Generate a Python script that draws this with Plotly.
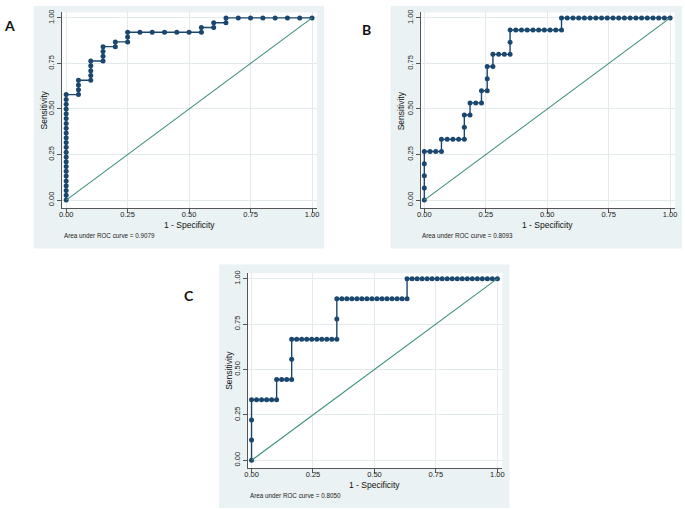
import plotly.graph_objects as go

# ---------------- data ----------------
tick_vals = [0, 0.25, 0.5, 0.75, 1.0]
tick_text = ["0.00", "0.25", "0.50", "0.75", "1.00"]
ref_line = [0, 1]

# Panel A: 20 negatives, 38 positives
a_n_neg = 20
a_n_pos = 38
a_fp = [0, 0, 0, 0, 0, 0, 0, 0, 0, 0, 0, 0, 0, 0, 0, 0, 0, 0, 0, 0, 0, 0, 0,
        1, 1, 1, 1, 2, 2, 2, 2, 2, 3, 3, 3, 3, 4, 4, 5, 5, 5,
        6, 7, 8, 9, 10, 11, 11, 12, 12, 13, 13, 14, 15, 16, 17, 18, 19, 20]
a_tp = [0, 1, 2, 3, 4, 5, 6, 7, 8, 9, 10, 11, 12, 13, 14, 15, 16, 17, 18, 19, 20, 21, 22,
        22, 23, 24, 25, 25, 26, 27, 28, 29, 29, 30, 31, 32, 32, 33, 33, 34, 35,
        35, 35, 35, 35, 35, 35, 36, 36, 37, 37, 38, 38, 38, 38, 38, 38, 38, 38]
a_auc = "0.9079"

# Panel B: 43 negatives, 15 positives
b_n_neg = 43
b_n_pos = 15
b_fp = [0, 0, 0, 0, 0, 1, 2, 3, 3, 4, 5, 6, 7, 7, 7, 8, 8, 9, 10, 10, 11, 11, 11, 12,
        12, 13, 14, 15, 15, 15, 16, 17, 18, 19, 20, 21, 22, 23, 24, 24,
        25, 26, 27, 28, 29, 30, 31, 32, 33, 34, 35, 36, 37, 38, 39, 40, 41, 42, 43]
b_tp = [0, 1, 2, 3, 4, 4, 4, 4, 5, 5, 5, 5, 5, 6, 7, 7, 8, 8, 8, 9, 9, 10, 11, 11,
        12, 12, 12, 12, 13, 14, 14, 14, 14, 14, 14, 14, 14, 14, 14, 15,
        15, 15, 15, 15, 15, 15, 15, 15, 15, 15, 15, 15, 15, 15, 15, 15, 15, 15, 15]
b_auc = "0.8093"

# Panel C: 49 negatives, 9 positives
c_n_neg = 49
c_n_pos = 9
c_fp = [0, 0, 0, 0, 1, 2, 3, 4, 5, 5, 6, 7, 8, 8, 8,
        9, 10, 11, 12, 13, 14, 15, 16, 17, 17, 17,
        18, 19, 20, 21, 22, 23, 24, 25, 26, 27, 28, 29, 30, 31, 31,
        32, 33, 34, 35, 36, 37, 38, 39, 40, 41, 42, 43, 44, 45, 46, 47, 48, 49]
c_tp = [0, 1, 2, 3, 3, 3, 3, 3, 3, 4, 4, 4, 4, 5, 6,
        6, 6, 6, 6, 6, 6, 6, 6, 6, 7, 8,
        8, 8, 8, 8, 8, 8, 8, 8, 8, 8, 8, 8, 8, 8, 9,
        9, 9, 9, 9, 9, 9, 9, 9, 9, 9, 9, 9, 9, 9, 9, 9, 9, 9]
c_auc = "0.8050"

panel_labels = ["A", "B", "C"]
x_title = "1 - Specificity"
y_title = "Sensitivity"
note_prefix = "Area under ROC curve = "

# ---------------- layout geometry (pixels) ----------------
W, H = 685, 510
NAVY = "#1A476F"
TEAL = "#3E8E7E"
BG = "#EAF2F3"
GRID = "#E2EAEC"
FONT = "Liberation Sans Narrow, Arial Narrow, Liberation Sans, Arial, sans-serif"

panels = [
    dict(fp=a_fp, tp=a_tp, nn=a_n_neg, np_=a_n_pos, auc=a_auc, label=panel_labels[0],
         box=(30, 3, 323, 247), plot=(59, 9.5, 315.7, 206.5), lab=(6, 23),
         ytl=40.5, xtl_y=223, note=(59, 233.5)),
    dict(fp=b_fp, tp=b_tp, nn=b_n_neg, np_=b_n_pos, auc=b_auc, label=panel_labels[1],
         box=(390, 3, 684, 247), plot=(420.3, 9.5, 677, 206.5), lab=(365.5, 27),
         ytl=400.5, xtl_y=223, note=(420, 233.5)),
    dict(fp=c_fp, tp=c_tp, nn=c_n_neg, np_=c_n_pos, auc=c_auc, label=panel_labels[2],
         box=(217, 263, 510, 508), plot=(246, 271.8, 502.7, 468.2), lab=(187, 294),
         ytl=227, xtl_y=485, note=(246, 495)),
]

XR = [-0.015, 1.02]
YR = [-0.045, 1.03]


def px(x):
    return x / W


def py(y):
    return 1 - y / H


fig = go.Figure()
shapes = []
annotations = []
layout_axes = {}

for i, p in enumerate(panels):
    k = "" if i == 0 else str(i + 1)
    xa, ya = "x" + k, "y" + k
    L, T, R, B = p["plot"]
    bx0, by0, bx1, by1 = p["box"]
    shapes.append(dict(type="rect", xref="paper", yref="paper", layer="below",
                       x0=px(bx0), x1=px(bx1), y0=py(by1), y1=py(by0),
                       fillcolor=BG, line=dict(width=0)))
    shapes.append(dict(type="rect", xref="paper", yref="paper", layer="below",
                       x0=px(L), x1=px(R), y0=py(B), y1=py(T),
                       fillcolor="white", line=dict(width=0)))

    xs = [v / p["nn"] for v in p["fp"]]
    ys = [v / p["np_"] for v in p["tp"]]
    fig.add_trace(go.Scatter(x=xs, y=ys, xaxis=xa, yaxis=ya, mode="lines+markers",
                             line=dict(color=NAVY, width=1.4),
                             marker=dict(color=NAVY, size=5, symbol="circle"),
                             showlegend=False, hoverinfo="skip", cliponaxis=False))
    fig.add_trace(go.Scatter(x=ref_line, y=ref_line, xaxis=xa, yaxis=ya, mode="lines",
                             line=dict(color=TEAL, width=1.1),
                             showlegend=False, hoverinfo="skip"))

    common = dict(showline=True, linecolor="#555", linewidth=1, ticks="outside",
                  ticklen=4, tickcolor="#555", tickwidth=1, showgrid=True,
                  gridcolor=GRID, gridwidth=1, zeroline=False,
                  tickvals=tick_vals, ticktext=tick_text,
                  tickfont=dict(family=FONT, size=7.5, color="#222"), fixedrange=True)
    layout_axes["xaxis" + k] = dict(domain=[px(L), px(R)], range=XR, anchor=ya,
                                    ticklabelstandoff=-5, **common)
    layout_axes["yaxis" + k] = dict(domain=[py(B), py(T)], range=YR, anchor=xa,
                                    tickangle=-90, ticklabelstandoff=0, **common)

    p0 = L + (0 - XR[0]) / (XR[1] - XR[0]) * (R - L)
    p1 = L + (1 - XR[0]) / (XR[1] - XR[0]) * (R - L)
    annotations.append(dict(text=x_title, xref="paper", yref="paper",
                            x=px((p0 + p1) / 2), y=py(p["xtl_y"]), showarrow=False,
                            xanchor="center", yanchor="middle",
                            font=dict(family=FONT, size=8.5, color="#111")))
    annotations.append(dict(text=y_title, xref="paper", yref="paper", textangle=-90,
                            x=px(p["ytl"]), y=py((T + B) / 2), showarrow=False,
                            xanchor="center", yanchor="middle",
                            font=dict(family=FONT, size=8.5, color="#111")))
    annotations.append(dict(text=note_prefix + p["auc"], xref="paper", yref="paper",
                            x=px(p["note"][0]), y=py(p["note"][1]), showarrow=False,
                            xanchor="left", yanchor="middle",
                            font=dict(family=FONT, size=6.3, color="#222")))
    annotations.append(dict(text="<b>" + p["label"] + "</b>", xref="paper", yref="paper",
                            x=px(p["lab"][0]), y=py(p["lab"][1]), showarrow=False,
                            xanchor="center", yanchor="middle",
                            font=dict(family="Lato, Open Sans, sans-serif", size=14, color="#111")))

fig.update_layout(width=W, height=H, margin=dict(l=0, r=0, t=0, b=0),
                  paper_bgcolor="white", plot_bgcolor="rgba(0,0,0,0)",
                  shapes=shapes, annotations=annotations, **layout_axes)

fig.write_html("out.html", config={"displayModeBar": False, "staticPlot": True},
               post_script="document.body.style.margin='0px';document.body.style.overflow='hidden';")
